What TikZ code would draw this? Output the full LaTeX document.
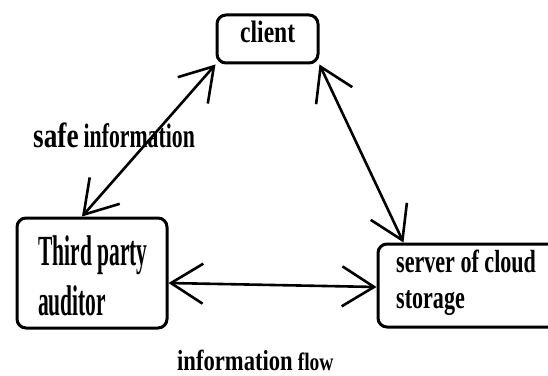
\documentclass[tikz,border=0pt]{standalone}
\usepackage{fontspec}
\setmainfont{Liberation Serif}
\usepackage{graphicx}
\usetikzlibrary{arrows.meta}
\newcommand{\sqz}[3]{\scalebox{#1}[1]{\fontsize{#2pt}{#2pt}\selectfont\bfseries #3}}
\begin{document}
\begin{tikzpicture}[x=1pt,y=1pt,
  box/.style={draw, line width=3pt, rounded corners=9pt, inner sep=0pt},
  lbl/.style={anchor=base west, inner sep=0pt},
  link/.style={line width=2.6pt, {Straight Barb[length=32pt,width=40pt]}-{Straight Barb[length=32pt,width=40pt]}}]
\useasboundingbox (0,0) rectangle (548,375);
\fill[white] (0,0) rectangle (548,375);
\clip (0,0) rectangle (548,375);
% boxes
\node[box, minimum width=101pt, minimum height=48pt] (client) at (267.5,336) {};
\node[box, minimum width=150pt, minimum height=110pt] (tpa) at (92,102) {};
\node[box, minimum width=192pt, minimum height=83pt] (server) at (474,89.5) {};
% texts
\node[lbl] (clientlbl) at (240,332) {\sqz{0.76}{31}{client}};
\node[lbl] (tpalbl1) at (38,110) {\sqz{0.5}{43}{Third party}};
\node[lbl] (tpalbl2) at (38,60) {\sqz{0.5}{43}{auditor}};
\node[lbl] (srvlbl1) at (396,103) {\sqz{0.69}{32}{server of cloud}};
\node[lbl] (srvlbl2) at (396,67) {\sqz{0.69}{32}{storage}};
\node[lbl] (safelbl) at (33,227) {\sqz{0.78}{35}{safe}\hspace{5pt}\sqz{0.64}{34}{information}};
\node[lbl] (flowlbl) at (177,5) {\sqz{0.78}{29}{information}\hspace{5pt}\sqz{0.78}{25}{flow}};
% connectors
\draw[link] (client.south west) -- ([xshift=-10pt]tpa.north);
\draw[link] (client.south east) -- ([xshift=27pt]server.north west);
\draw[link] ([yshift=-10pt]tpa.east) -- ([yshift=-1.5pt]server.west);
\end{tikzpicture}
\end{document}
